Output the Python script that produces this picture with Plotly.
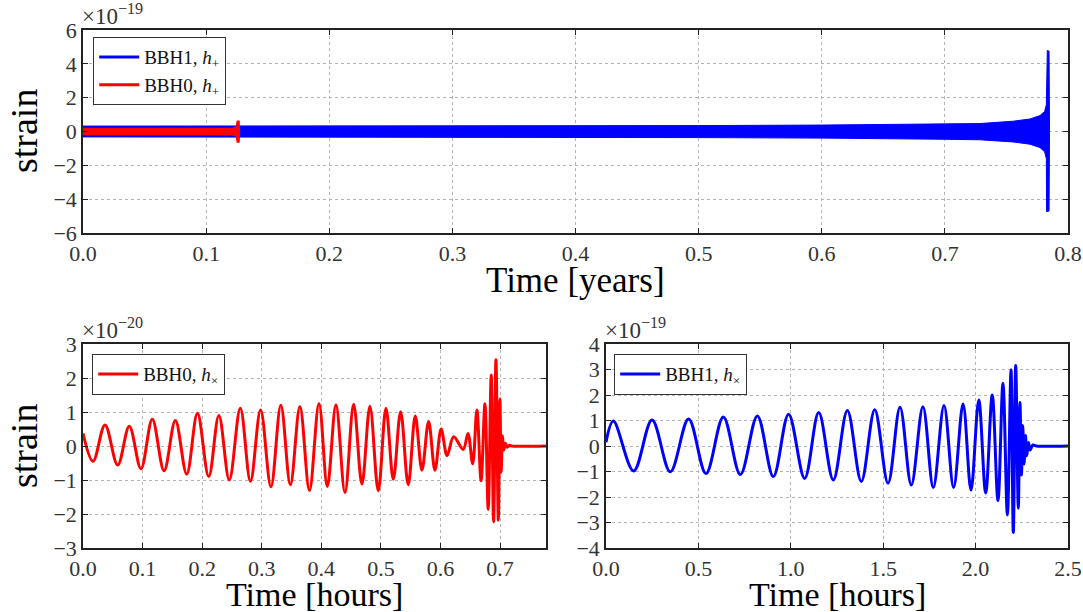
import plotly.graph_objects as go

# ---------------- data ----------------
# Top panel: dense oscillation drawn as its envelope, strain in units of 1e-19
bbh1_plus_t = [0.0, 0.1, 0.2, 0.3, 0.4, 0.5, 0.6, 0.65, 0.7, 0.7285, 0.7556, 0.7691,
               0.7772, 0.781, 0.7824, 0.7826, 0.7832, 0.7846, 0.785]
bbh1_plus_upper = [0.32, 0.32, 0.33, 0.33, 0.34, 0.35, 0.38, 0.41, 0.44, 0.47, 0.61, 0.74,
                   0.94, 1.18, 1.58, 4.79, 4.79, 4.75, 0.0]
bbh1_plus_lower = [-0.32, -0.32, -0.33, -0.34, -0.35, -0.36, -0.39, -0.42, -0.46, -0.49, -0.62, -0.75,
                   -0.95, -1.2, -1.6, -4.73, -4.73, -4.7, 0.0]

bbh0_plus_t = [0.0, 0.05, 0.1, 0.121, 0.1245, 0.1253, 0.1267, 0.127]
bbh0_plus_upper = [0.17, 0.17, 0.17, 0.18, 0.24, 0.6, 0.6, 0.0]
bbh0_plus_lower = [-0.18, -0.18, -0.18, -0.19, -0.25, -0.62, -0.62, 0.0]

# Bottom left: BBH0 h_x extrema, time in hours, strain in units of 1e-20
bbh0_cross_t = [0.0, 0.0168, 0.0369, 0.0582, 0.0777, 0.0973, 0.1163, 0.136, 0.155, 0.174,
                0.192, 0.211, 0.228, 0.2455, 0.264, 0.281, 0.298, 0.3154, 0.332, 0.348,
                0.364, 0.380, 0.396, 0.410, 0.4245, 0.4396, 0.4542, 0.4681, 0.4815, 0.4955,
                0.5084, 0.5207, 0.533, 0.5458, 0.5576, 0.5688, 0.580, 0.5906, 0.601, 0.611,
                0.622, 0.638, 0.646, 0.654, 0.661, 0.668, 0.6745, 0.680, 0.685, 0.689,
                0.693, 0.697, 0.6997, 0.7017, 0.704, 0.706, 0.709, 0.712, 0.716, 0.72, 0.777]
bbh0_cross_h = [0.37, -0.45, 0.62, -0.56, 0.58, -0.67, 0.79, -0.73, 0.75, -0.83,
                0.96, -0.90, 0.90, -1.0, 1.11, -1.04, 1.06, -1.20, 1.20, -1.14,
                1.16, -1.31, 1.25, -1.19, 1.21, -1.37, 1.23, -1.12, 1.17, -1.32,
                1.11, -0.98, 1.01, -1.14, 0.88, -0.71, 0.72, -0.71, 0.50, -0.28,
                0.27, -0.10, 0.37, -0.52, 1.06, -1.02, 1.24, -1.87, 2.09, -2.23,
                2.54, -2.18, 1.38, -0.77, 0.30, -0.12, 0.08, -0.04, 0.02, 0.0, 0.0]

# Bottom right: BBH1 h_x extrema, time in hours, strain in units of 1e-19
bbh1_cross_t = [0.0, 0.0397, 0.1497, 0.249, 0.348, 0.447, 0.541, 0.635, 0.727, 0.819,
                0.9055, 0.988, 1.075, 1.151, 1.230, 1.306, 1.3815, 1.454, 1.526, 1.591,
                1.652, 1.715, 1.771, 1.829, 1.881, 1.932, 1.975, 2.017, 2.0546, 2.090,
                2.121, 2.148, 2.172, 2.1916, 2.204, 2.217, 2.231, 2.240, 2.248, 2.255,
                2.262, 2.27, 2.277, 2.286, 2.295, 2.31, 2.33, 2.5]
bbh1_cross_h = [0.15, 0.98, -0.98, 1.02, -1.01, 1.06, -1.08, 1.14, -1.12, 1.18,
                -1.20, 1.25, -1.27, 1.31, -1.33, 1.39, -1.39, 1.42, -1.46, 1.52,
                -1.53, 1.54, -1.63, 1.59, -1.63, 1.65, -1.73, 1.80, -1.84, 2.00,
                -2.14, 2.46, -2.71, 2.99, -3.39, 3.16, -2.44, 1.71, -1.14, 0.80,
                -0.71, 0.41, -0.38, 0.14, -0.16, 0.04, 0.0, 0.0]

top_xticks = [0.0, 0.1, 0.2, 0.3, 0.4, 0.5, 0.6, 0.7, 0.8]
top_yticks = [-6, -4, -2, 0, 2, 4, 6]
bl_xticks = [0.0, 0.1, 0.2, 0.3, 0.4, 0.5, 0.6, 0.7]
bl_yticks = [-3, -2, -1, 0, 1, 2, 3]
br_xticks = [0.0, 0.5, 1.0, 1.5, 2.0, 2.5]
br_yticks = [-4, -3, -2, -1, 0, 1, 2, 3, 4]

BLUE = "#0000ff"
RED = "#ff0000"
FONT = "'Liberation Serif', 'Times New Roman', 'DejaVu Serif', serif"

# ---------------- figure ----------------
fig = go.Figure()

# top panel: BBH1 h+ band
fig.add_trace(go.Scatter(
    x=bbh1_plus_t + bbh1_plus_t[::-1],
    y=bbh1_plus_upper + bbh1_plus_lower[::-1],
    fill="toself", fillcolor=BLUE, mode="lines",
    line=dict(color=BLUE, width=1), showlegend=False, hoverinfo="skip",
    xaxis="x", yaxis="y"))
# top panel: BBH0 h+ band
fig.add_trace(go.Scatter(
    x=bbh0_plus_t + bbh0_plus_t[::-1],
    y=bbh0_plus_upper + bbh0_plus_lower[::-1],
    fill="toself", fillcolor=RED, mode="lines",
    line=dict(color=RED, width=1.5), showlegend=False, hoverinfo="skip",
    xaxis="x", yaxis="y"))
# legend entries for the top panel
fig.add_trace(go.Scatter(x=[None], y=[None], mode="lines", line=dict(color=BLUE, width=3),
                         name="BBH1, <i>h</i><sub>+</sub>", legend="legend",
                         xaxis="x", yaxis="y"))
fig.add_trace(go.Scatter(x=[None], y=[None], mode="lines", line=dict(color=RED, width=3),
                         name="BBH0, <i>h</i><sub>+</sub>", legend="legend",
                         xaxis="x", yaxis="y"))

# bottom left
fig.add_trace(go.Scatter(x=bbh0_cross_t, y=bbh0_cross_h, mode="lines",
                         line=dict(color=RED, width=3, shape="spline", smoothing=1),
                         name="BBH0, <i>h</i><sub>×</sub>", legend="legend2",
                         xaxis="x2", yaxis="y2"))
# bottom right
fig.add_trace(go.Scatter(x=bbh1_cross_t, y=bbh1_cross_h, mode="lines",
                         line=dict(color=BLUE, width=3, shape="spline", smoothing=1),
                         name="BBH1, <i>h</i><sub>×</sub>", legend="legend3",
                         xaxis="x3", yaxis="y3"))

W, H = 1083, 612


def px(xp):
    return xp / W


def py(yp):
    return 1 - yp / H


axis_style = dict(
    showline=True, mirror="ticks", linecolor="#222", linewidth=1.5,
    ticks="inside", ticklen=5, tickwidth=1, tickcolor="#222",
    showgrid=True, gridcolor="#b4b4b4", griddash="dot", gridwidth=1,
    zeroline=False, automargin=False,
    tickfont=dict(family=FONT, size=22, color="#333"),
)

legend_style = dict(
    bgcolor="white", bordercolor="#333", borderwidth=1.2,
    font=dict(family=FONT, size=19, color="#111"),
    xanchor="left", yanchor="top", tracegroupgap=0, itemwidth=40,
)

fig.update_layout(
    width=W, height=H, margin=dict(l=0, r=0, t=0, b=0, autoexpand=False),
    paper_bgcolor="white", plot_bgcolor="white",
    font=dict(family=FONT),
    xaxis=dict(domain=[px(83), px(1068)], range=[0, 0.8], tickvals=top_xticks,
               tickformat=".1f", anchor="y", **axis_style),
    yaxis=dict(domain=[py(233), py(30)], range=[-6, 6], tickvals=top_yticks, anchor="x", **axis_style),
    xaxis2=dict(domain=[px(83), px(546)], range=[0, 0.777], tickvals=bl_xticks,
                tickformat=".1f", anchor="y2", **axis_style),
    yaxis2=dict(domain=[py(548), py(344)], range=[-3, 3], tickvals=bl_yticks, anchor="x2", **axis_style),
    xaxis3=dict(domain=[px(606), px(1068)], range=[0, 2.5], tickvals=br_xticks,
                tickformat=".1f", anchor="y3", **axis_style),
    yaxis3=dict(domain=[py(548), py(344)], range=[-4, 4], tickvals=br_yticks, anchor="x3", **axis_style),
    legend=dict(x=px(93), y=py(37), **legend_style),
    legend2=dict(x=px(92), y=py(354), **legend_style),
    legend3=dict(x=px(614), y=py(354), **legend_style),
    showlegend=True,
)

ann_font_title = dict(family=FONT, size=34, color="black")
ann_font_exp = dict(family=FONT, size=23, color="#333")
annotations = [
    dict(text="×10<sup>−19</sup>", x=px(80), y=py(31), xanchor="left", yanchor="bottom", font=ann_font_exp),
    dict(text="×10<sup>−20</sup>", x=px(80), y=py(345), xanchor="left", yanchor="bottom", font=ann_font_exp),
    dict(text="×10<sup>−19</sup>", x=px(603), y=py(345), xanchor="left", yanchor="bottom", font=ann_font_exp),
    dict(text="Time [years]", x=px(575), y=py(281), xanchor="center", yanchor="middle",
         font=dict(family=FONT, size=35, color="black")),
    dict(text="Time [hours]", x=px(314), y=py(594), xanchor="center", yanchor="middle", font=ann_font_title),
    dict(text="Time [hours]", x=px(837), y=py(594), xanchor="center", yanchor="middle", font=ann_font_title),
    dict(text="strain", x=px(24), y=py(131), xanchor="center", yanchor="middle", textangle=-90,
         font=dict(family=FONT, size=38, color="black")),
    dict(text="strain", x=px(24), y=py(446), xanchor="center", yanchor="middle", textangle=-90,
         font=dict(family=FONT, size=38, color="black")),
]
for a in annotations:
    a.update(xref="paper", yref="paper", showarrow=False)
fig.update_layout(annotations=annotations)

fig.write_html("out.html", config={"displayModeBar": False},
               post_script="document.body.style.margin='0px';")
